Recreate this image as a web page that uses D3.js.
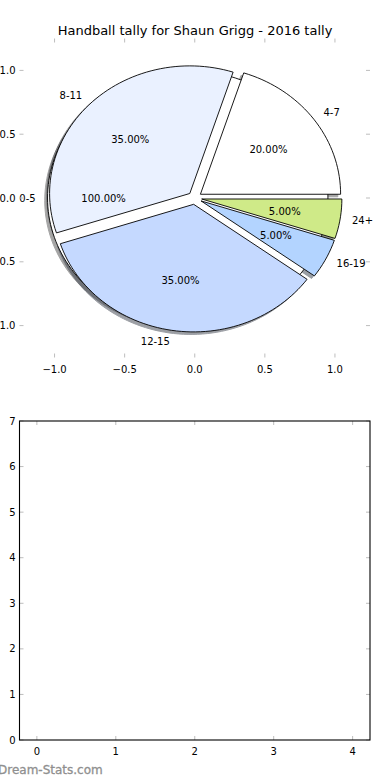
<!DOCTYPE html>
<html><head><meta charset="utf-8">
<script src="https://cdn.jsdelivr.net/npm/d3@7"></script>
<style>body{margin:0;background:#fff}svg{display:block;font-family:"DejaVu Sans",sans-serif}</style>
</head><body>
<svg id="c" width="390" height="780"></svg>
<script>
const title = "Handball tally for Shaun Grigg - 2016 tally";
const labels = ["0-5", "4-7", "8-11", "12-15", "16-19", "24+"];
const shares = [1.00, 0.20, 0.35, 0.35, 0.05, 0.05];
const colors = ["#ffffff", "#ffffff", "#eaf1ff", "#c5d9ff", "#b3d4ff", "#cfea88"];
const explode = [0.05, 0.05, 0.05, 0.05, 0.05, 0.05];
const pieXTicks = [-1.0, -0.5, 0.0, 0.5, 1.0];
const pieYTicks = [-1.0, -0.5, 0.0, 0.5, 1.0];
const barXTicks = [0, 1, 2, 3, 4];
const barYTicks = [0, 1, 2, 3, 4, 5, 6, 7];
const watermark = "Dream-Stats.com";

const svg = d3.select("#c");
const fmtTick = d3.format(".1f");
const minus = s => s.replace("-", "\u2212");
const pct = d3.format(".2%");

// ---------- pie axes ----------
const P = {l: 19.5, r: 370, t: 38.5, b: 357.5};
const px = d3.scaleLinear().domain([-1.25, 1.25]).range([P.l, P.r]);
const py = d3.scaleLinear().domain([-1.25, 1.25]).range([P.b, P.t]);
const line = d3.line().x(d => px(d[0])).y(d => py(d[1]));

svg.append("text").attr("x", 195).attr("y", 34.5).attr("text-anchor", "middle")
  .attr("font-size", 13).attr("fill", "#000").text(title);

let cum = 0;
const wedges = shares.map((s, i) => {
  const t1 = cum * 360, t2 = (cum + s) * 360; cum += s;
  const tm = (t1 + t2) / 2 * Math.PI / 180;
  const cx = explode[i] * Math.cos(tm), cy = explode[i] * Math.sin(tm);
  return {i, t1, t2, tm, cx, cy, full: Math.abs(t2 - t1 - 360) < 1e-9, share: s};
});
function wedgePath(w, ox, oy) {
  const n = Math.max(8, Math.ceil((w.t2 - w.t1) / 2));
  const pts = d3.range(n + 1).map(k => {
    const a = (w.t1 + (w.t2 - w.t1) * k / n) * Math.PI / 180;
    return [w.cx + ox + Math.cos(a), w.cy + oy + Math.sin(a)];
  });
  if (!w.full) pts.unshift([w.cx + ox, w.cy + oy]);
  return line(pts) + "Z";
}
const gP = svg.append("g");
wedges.forEach(w => {
  const c = d3.rgb(colors[w.i]);
  const sc = d3.rgb(c.r * 0.3, c.g * 0.3, c.b * 0.3);
  gP.append("path").attr("d", wedgePath(w, -0.02, -0.02))
    .attr("fill", sc).attr("stroke", sc).attr("stroke-width", 1).attr("opacity", 0.5);
});
wedges.forEach(w => {
  gP.append("path").attr("d", wedgePath(w, 0, 0))
    .attr("fill", colors[w.i]).attr("stroke", "#000").attr("stroke-width", 0.9)
    .attr("stroke-linejoin", "round");
});
wedges.forEach(w => {
  const xt = w.cx + 1.085 * Math.cos(w.tm), yt = w.cy + 1.085 * Math.sin(w.tm);
  gP.append("text").attr("x", px(xt)).attr("y", py(yt)).attr("dy", "0.36em")
    .attr("text-anchor", xt > 0 ? "start" : "end").attr("font-size", 10).text(labels[w.i]);
  const xp = w.cx + 0.6 * Math.cos(w.tm), yp = w.cy + 0.6 * Math.sin(w.tm);
  gP.append("text").attr("x", px(xp)).attr("y", py(yp)).attr("dy", "0.36em")
    .attr("text-anchor", "middle").attr("font-size", 10).text(pct(w.share));
});

const tickCol = "#bdbdbd";
function ticksFor(g, xs, ys, xTicks, yTicks, box, fmt, len) {
  xTicks.forEach(v => {
    g.append("line").attr("x1", xs(v)).attr("x2", xs(v)).attr("y1", box.b).attr("y2", box.b - len).attr("stroke", tickCol);
    g.append("line").attr("x1", xs(v)).attr("x2", xs(v)).attr("y1", box.t).attr("y2", box.t + len).attr("stroke", tickCol);
    g.append("text").attr("x", xs(v)).attr("y", box.b + 11.5).attr("dy", "0.36em")
      .attr("text-anchor", "middle").attr("font-size", 10).text(fmt(v));
  });
  yTicks.forEach(v => {
    g.append("line").attr("x1", box.l).attr("x2", box.l + len).attr("y1", ys(v)).attr("y2", ys(v)).attr("stroke", tickCol);
    g.append("line").attr("x1", box.r).attr("x2", box.r - len).attr("y1", ys(v)).attr("y2", ys(v)).attr("stroke", tickCol);
    g.append("text").attr("x", box.l - 4).attr("y", ys(v)).attr("dy", "0.36em")
      .attr("text-anchor", "end").attr("font-size", 10).text(fmt(v));
  });
}
ticksFor(svg.append("g"), px, py, pieXTicks, pieYTicks, P, v => minus(fmtTick(v)), 4);

// ---------- bottom empty axes ----------
const B = {l: 19.5, r: 370, t: 421, b: 740};
const bx = d3.scaleLinear().domain([-0.22, 4.22]).range([B.l, B.r]);
const by = d3.scaleLinear().domain([0, 7]).range([B.b, B.t]);
const gB = svg.append("g");
ticksFor(gB, bx, by, barXTicks, barYTicks, B, d3.format("d"), 4);
gB.append("rect").attr("x", B.l).attr("y", B.t).attr("width", B.r - B.l).attr("height", B.b - B.t)
  .attr("fill", "none").attr("stroke", "#000").attr("stroke-width", 1.1);

svg.append("text").attr("x", -2).attr("y", 774).attr("font-size", 12)
  .attr("fill", "#8f8f8f").attr("stroke", "#8f8f8f").attr("stroke-width", 0.3).text(watermark);
</script></body></html>
